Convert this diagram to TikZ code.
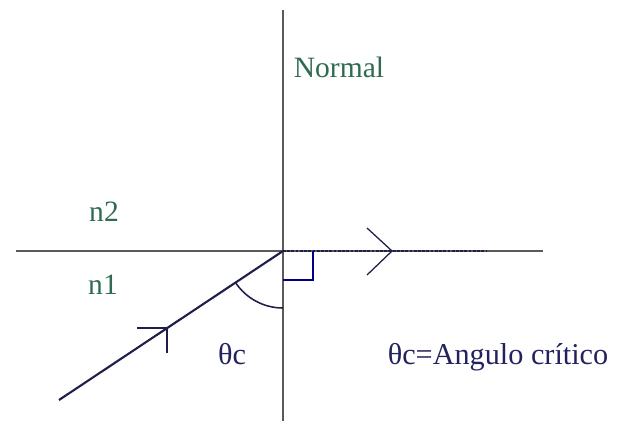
\documentclass[tikz,border=0pt]{standalone}
\usepackage{fontspec}
\setmainfont{Liberation Serif}
\definecolor{axisgray}{HTML}{5A5A5A}
\definecolor{raynavy}{HTML}{1E1E48}
\definecolor{labelgreen}{HTML}{2F6B52}
\definecolor{labelnavy}{HTML}{22225E}
\begin{document}
\begin{tikzpicture}[x=0.025cm, y=0.025cm,
    axis/.style={axisgray, line width=1.3pt},
    ray/.style={raynavy, line width=1.5pt},
    medium/.style={labelgreen, font=\fontsize{21}{25}\selectfont},
    angletext/.style={labelnavy, font=\fontsize{21.5}{25}\selectfont}]
    \useasboundingbox (0,0) rectangle (629,421);

    % --- Points ---
    \coordinate (O) at (283,170);
    \coordinate (normaltop) at (283,411);
    \coordinate (normalbot) at (283,0);
    \coordinate (surfleft) at (16,170);
    \coordinate (surfright) at (543,170);
    \coordinate (refrend) at (487,170);
    \coordinate (raystart) at (59,21);
    \coordinate (raymark) at (167,93);

    % --- Labels ---
    \node[medium] (normal) at (339,354) {Normal};
    \node[medium] (ntwo) at (104,209) {n2};
    \node[medium] (none) at (103,136) {n1};
    \node[angletext] (theta) at (232,67) {θc};
    \node[angletext] (legend) at (498,64) {θc=Angulo crítico};

    % --- Normal and surface ---
    \draw[axis] (normalbot) -- (normaltop);
    \draw[axis] (surfleft) -- (surfright);

    % refracted ray along the surface
    \draw[raynavy, line width=1.6pt, dash pattern=on 2pt off 1pt] (O) -- (refrend);
    \draw[raynavy, line width=0.9pt] (367,193) -- (392,170) -- (367,146);

    % incident ray with its half arrow
    \draw[ray] (raystart) -- (O);
    \draw[raynavy, line width=1.1pt] (137,93) -- (raymark) -- (167,68);

    % right angle and critical angle
    \draw[blue!50!black, line width=1.1pt] (313,170) -- (313,141) -- (283,141);
    \draw[raynavy, line width=1.1pt] (O) ++(214:1.425cm) arc[start angle=214, end angle=270, radius=1.425cm];

\end{tikzpicture}
\end{document}
